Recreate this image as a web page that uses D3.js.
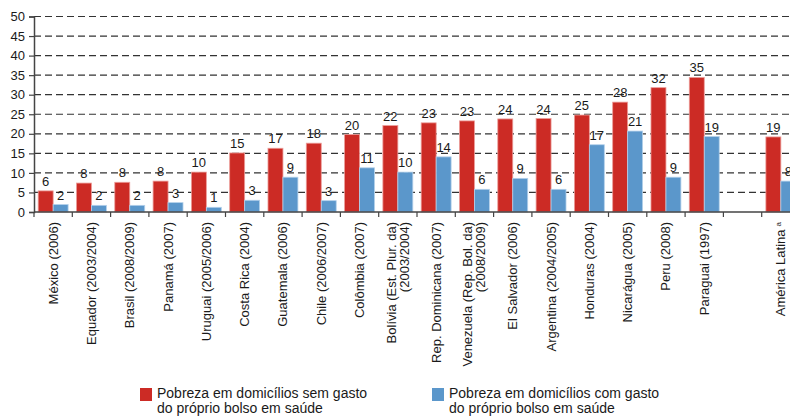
<!DOCTYPE html>
<html>
<head>
<meta charset="utf-8">
<script src="https://cdn.jsdelivr.net/npm/d3@7"></script>
<style>
  body { margin: 0; background: #fff; }
  svg { font-family: "Liberation Sans", Arial, sans-serif; display: block; }
</style>
</head>
<body>
<div id="chart"></div>
<script>
// dados
const paises = [
  ["México (2006)"], ["Equador (2003/2004)"], ["Brasil (2008/2009)"], ["Panamá (2007)"],
  ["Uruguai (2005/2006)"], ["Costa Rica (2004)"], ["Guatemala (2006)"], ["Chile (2006/2007)"],
  ["Colômbia (2007)"], ["Bolívia (Est. Plur. da)", "(2003/2004)"], ["Rep. Dominicana (2007)"],
  ["Venezuela (Rep. Bol. da)", "(2008/2009)"], ["El Salvador (2006)"], ["Argentina (2004/2005)"],
  ["Honduras (2004)"], ["Nicarágua (2005)"], ["Peru (2008)"], ["Paraguai (1997)"], [],
  ["América Latina"]
];
const semGasto = [5.4, 7.4, 7.6, 7.9, 10.2, 15.1, 16.3, 17.6, 19.8, 22.1, 22.8, 23.3, 23.8, 23.9, 24.8, 28.1, 31.8, 34.4, null, 19.2];
const comGasto = [1.9, 1.7, 1.7, 2.4, 1.2, 3.0, 8.9, 2.9, 11.3, 10.2, 14.1, 5.8, 8.6, 5.8, 17.2, 20.7, 8.9, 19.3, null, 7.9];
const rotSem = ["6", "8", "8", "8", "10", "15", "17", "18", "20", "22", "23", "23", "24", "24", "25", "28", "32", "35", "", "19"];
const rotCom = ["2", "2", "2", "3", "1", "3", "9", "3", "11", "10", "14", "6", "9", "6", "17", "21", "9", "19", "", "8"];
const yTicks = [0, 5, 10, 15, 20, 25, 30, 35, 40, 45, 50];
const legenda = [
  ["Pobreza em domicílios sem gasto", "do próprio bolso em saúde"],
  ["Pobreza em domicílios com gasto", "do próprio bolso em saúde"]
];

const width = 790, height = 417;
const margin = { top: 16.5, left: 34 };
const plotBottom = 212;
const corSem = "#cc2b25", corCom = "#5b97cb";

const svg = d3.select("#chart").append("svg")
  .attr("width", width).attr("height", height);

const idx = d3.range(paises.length);
// o gráfico original continua além da borda direita (América Latina cortada)
const x = d3.scaleBand().domain(idx).range([margin.left, margin.left + 20 * 38.3]).padding(0);
const xs = d3.scaleBand().domain(["sem", "com"]).range([0, x.bandwidth()])
  .paddingInner(0).paddingOuter(0.28);
const y = d3.scaleLinear().domain([0, 50]).range([plotBottom, margin.top]);

// grade tracejada
svg.append("g").selectAll("line").data(yTicks.filter(t => t > 0)).join("line")
  .attr("x1", margin.left).attr("x2", width)
  .attr("y1", d => y(d)).attr("y2", d => y(d))
  .attr("stroke", "#333").attr("stroke-width", 1.2)
  .attr("stroke-dasharray", "7,4");

// barras
const grupos = svg.append("g").selectAll("g").data(idx).join("g")
  .attr("transform", i => `translate(${x(i)},0)`);

grupos.filter(i => semGasto[i] != null).append("rect")
  .attr("x", xs("sem")).attr("width", xs.bandwidth())
  .attr("y", i => y(semGasto[i])).attr("height", i => plotBottom - y(semGasto[i]))
  .attr("fill", corSem).attr("stroke", "#ec9c98").attr("stroke-width", 0.8);

grupos.filter(i => comGasto[i] != null).append("rect")
  .attr("x", xs("com")).attr("width", xs.bandwidth())
  .attr("y", i => y(comGasto[i])).attr("height", i => plotBottom - y(comGasto[i]))
  .attr("fill", corCom).attr("stroke", "#b3d0ea").attr("stroke-width", 0.8);

// rótulos de valor
grupos.append("text")
  .attr("x", xs("sem") + xs.bandwidth() / 2)
  .attr("y", i => y(semGasto[i] || 0) - 5)
  .attr("text-anchor", "middle").attr("font-size", 13).attr("fill", "#1a1a1a")
  .text(i => rotSem[i]);
grupos.append("text")
  .attr("x", xs("com") + xs.bandwidth() / 2)
  .attr("y", i => y(comGasto[i] || 0) - 5)
  .attr("text-anchor", "middle").attr("font-size", 13).attr("fill", "#1a1a1a")
  .text(i => rotCom[i]);

// eixo y
const yAxis = svg.append("g").attr("transform", `translate(${margin.left},0)`)
  .call(d3.axisLeft(y).tickValues(yTicks).tickSize(5).tickPadding(4));
yAxis.select(".domain").attr("stroke", "#444").attr("stroke-width", 1.5);
yAxis.selectAll(".tick line").attr("stroke", "#444").attr("stroke-width", 1.2);
yAxis.selectAll("text").attr("font-size", 13).attr("fill", "#1a1a1a")
  .attr("font-family", "Liberation Sans, Arial, sans-serif");

// eixo x
const xAxis = svg.append("g").attr("transform", `translate(0,${plotBottom})`);
xAxis.append("line").attr("x1", margin.left).attr("x2", width)
  .attr("stroke", "#444").attr("stroke-width", 1.5);
xAxis.selectAll("line.tk").data(idx.concat([20])).join("line").attr("class", "tk")
  .attr("x1", i => margin.left + i * x.step()).attr("x2", i => margin.left + i * x.step())
  .attr("y1", 0).attr("y2", 5).attr("stroke", "#444").attr("stroke-width", 1.2);

// nomes dos países (girados)
idx.forEach(i => {
  const linhas = paises[i];
  const cx = x(i) + x.bandwidth() / 2;
  linhas.forEach((txt, k) => {
    const dx = linhas.length === 1 ? 0 : (k === 0 ? -6.5 : 6.5);
    const t = svg.append("text")
      .attr("transform", `translate(${cx + dx + 4.5},${plotBottom + 10}) rotate(-90)`)
      .attr("text-anchor", "end").attr("font-size", 13).attr("fill", "#1a1a1a")
      .text(txt);
    if (txt === "América Latina") {
      t.append("tspan").attr("font-size", 8).attr("dx", 3).attr("dy", -4).text("a");
    }
  });
});

// legenda
const leg = svg.append("g");
const legX = [140, 432];
legenda.forEach((linhas, k) => {
  leg.append("rect").attr("x", legX[k]).attr("y", 388).attr("width", 12).attr("height", 13)
    .attr("fill", k === 0 ? corSem : corCom);
  linhas.forEach((txt, j) => {
    leg.append("text").attr("x", legX[k] + 17).attr("y", 398 + j * 15)
      .attr("font-size", 14).attr("fill", "#1a1a1a").text(txt);
  });
});
</script>
</body>
</html>
